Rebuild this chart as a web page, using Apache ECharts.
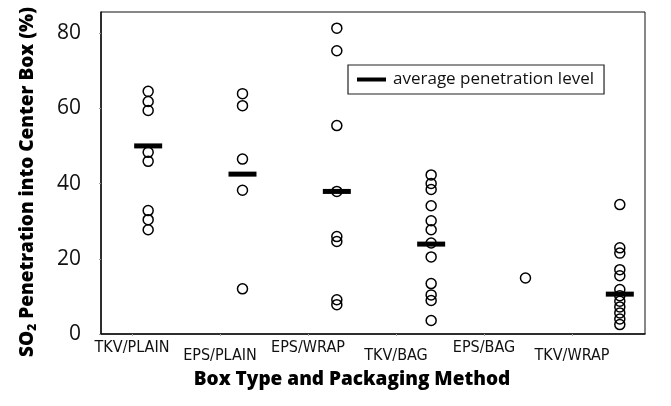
<!DOCTYPE html>
<html>
<head>
<meta charset="utf-8">
<script src="https://cdn.jsdelivr.net/npm/echarts@6/dist/echarts.min.js"></script>
<style>html,body{margin:0;padding:0;background:#fff}#c{width:671px;height:406px}</style>
</head>
<body>
<div id="c"></div>
<script>
const categories = ['TKV/PLAIN', 'EPS/PLAIN', 'EPS/WRAP', 'TKV/BAG', 'EPS/BAG', 'TKV/WRAP'];
const tkvPlain = [64.5, 61.8, 59.4, 48.3, 45.9, 32.8, 30.4, 27.7];
const epsPlain = [63.9, 60.7, 46.5, 38.2, 12.0];
const epsWrap = [81.3, 75.3, 55.4, 37.9, 25.9, 24.6, 9.1, 7.8];
const tkvBag = [42.3, 40.0, 38.4, 34.1, 30.1, 27.7, 24.2, 20.5, 13.4, 10.4, 8.9, 3.6];
const epsBag = [14.9];
const tkvWrap = [34.4, 22.9, 21.5, 17.1, 15.5, 11.8, 10.2, 8.7, 7.2, 5.6, 4.0, 2.5];
const averages = [50.0, 42.5, 37.9, 23.9, null, 10.6];
const yTicks = [0, 20, 40, 60, 80];
const averageName = 'average penetration level';

const groups = [tkvPlain, epsPlain, epsWrap, tkvBag, epsBag, tkvWrap];
const points = [];
groups.forEach((g, i) => g.forEach(v => points.push([i + 1, v])));
const avgPoints = [];
averages.forEach((v, i) => { if (v != null) avgPoints.push([i + 1, v]); });

const chart = echarts.init(document.getElementById('c'));
chart.setOption({
  animation: false,
  backgroundColor: '#fff',
  grid: [
    { left: 101, top: 12, width: 544, height: 322, outerBoundsMode: 'none', containLabel: false,
      show: true, borderColor: '#111', borderWidth: 1, backgroundColor: 'transparent' },
    { left: 88, top: 12, width: 528, height: 322, outerBoundsMode: 'none', containLabel: false }
  ],
  legend: {
    data: [{ name: averageName, icon: 'rect', itemStyle: { opacity: 1 } }],
    left: 348, top: 65,
    orient: 'horizontal',
    itemWidth: 29, itemHeight: 4, itemGap: 0,
    padding: [6, 10, 6, 9],
    borderColor: '#222', borderWidth: 1.2,
    textStyle: { fontFamily: 'Open Sans', fontSize: 17, color: '#111', padding: [0, 0, 0, 2] }
  },
  xAxis: [
    { type: 'value', gridIndex: 0, min: 0.5, max: 6.267,
      axisLine: { show: true, onZero: false, lineStyle: { color: '#111', width: 1.5 } },
      axisTick: { show: false }, axisLabel: { show: false }, splitLine: { show: false } },
    { type: 'category', gridIndex: 1, data: categories, position: 'bottom',
      axisLine: { show: false },
      axisTick: { show: true, alignWithLabel: true, length: 2, lineStyle: { color: '#aaa' } },
      axisLabel: {
        margin: 6,
        interval: 0,
        formatter: (v, i) => (i % 2 === 1 ? '{lo|' + v + '}' : '{hi|' + v + '}'),
        rich: {
          hi: { fontFamily: 'Liberation Sans Narrow, DejaVu Sans Condensed, sans-serif', fontSize: 16, color: '#111' },
          lo: { fontFamily: 'Liberation Sans Narrow, DejaVu Sans Condensed, sans-serif', fontSize: 16, color: '#111', padding: [8, 0, 0, 0] }
        }
      },
      name: 'Box Type and Packaging Method',
      nameLocation: 'middle', nameGap: 36,
      nameTextStyle: { fontFamily: 'Open Sans', fontWeight: 800, fontSize: 19, color: '#000' }
    }
  ],
  yAxis: [
    { type: 'value', gridIndex: 0, min: 0, max: 85.6,
      axisLine: { show: true, lineStyle: { color: '#111', width: 1.5 } },
      axisTick: { show: true, length: 2, customValues: yTicks, lineStyle: { color: '#999' } },
      axisLabel: { customValues: yTicks, margin: 20, fontFamily: 'Open Sans', fontSize: 21, color: '#111' },
      splitLine: { show: false },
      name: '{t|SO}{sub|2}{t| Penetration into Center Box (%)}',
      nameLocation: 'middle', nameGap: 62,
      nameTextStyle: { color: '#000', padding: [0, 18, 0, 0],
        rich: {
          t: { fontFamily: 'Open Sans', fontWeight: 800, fontSize: 19, color: '#000' },
          sub: { fontFamily: 'Open Sans', fontWeight: 800, fontSize: 12, color: '#000', padding: [10, 0, 0, 0] }
        } }
    },
    { type: 'value', gridIndex: 1, min: 0, max: 1, show: false }
  ],
  series: [
    { name: 'points', type: 'scatter', xAxisIndex: 0, yAxisIndex: 0, data: points,
      symbol: 'circle', symbolSize: 10,
      itemStyle: { color: 'rgba(255,255,255,0)', borderColor: '#000', borderWidth: 1.5, opacity: 1 }, z: 3 },
    { name: averageName, type: 'scatter', xAxisIndex: 0, yAxisIndex: 0, data: avgPoints,
      symbol: 'rect', symbolSize: [28, 5],
      itemStyle: { color: '#000', opacity: 1 }, z: 4 }
  ]
});
</script>
</body>
</html>
